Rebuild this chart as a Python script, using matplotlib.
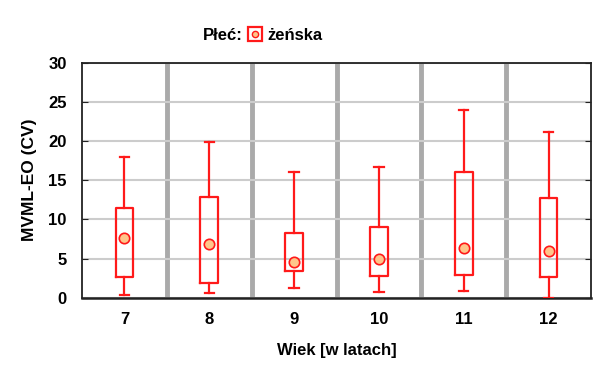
import matplotlib.pyplot as plt
from matplotlib.lines import Line2D

plt.rcParams['font.family'] = ['Liberation Sans', 'DejaVu Sans']
plt.rcParams['font.weight'] = 'bold'

# dane
ages = ["7", "8", "9", "10", "11", "12"]
whis_lo = [0.3, 0.6, 1.3, 0.7, 0.9, 0.0]
q1 = [2.7, 1.9, 3.4, 2.8, 2.9, 2.7]
q3 = [11.4, 12.9, 8.3, 9.0, 16.0, 12.7]
whis_hi = [18.0, 19.9, 16.1, 16.7, 24.0, 21.1]
means = [7.6, 6.8, 4.6, 5.0, 6.4, 6.0]

RED = "#ff1a1a"
FILL = "#ffc58a"

stats = []
for i in range(len(ages)):
    stats.append({
        "whislo": whis_lo[i], "q1": q1[i], "med": means[i],
        "q3": q3[i], "whishi": whis_hi[i], "mean": means[i],
    })

fig = plt.figure(figsize=(5.96, 3.67), dpi=100)
ax = fig.add_axes([0.1376, 0.1888, 0.8540, 0.6404])

positions = list(range(1, len(ages) + 1))

ax.set_xlim(0.5, len(ages) + 0.5)
ax.set_ylim(0, 30)
ax.set_yticks(range(0, 31, 5))
ax.grid(axis="y", color="#cccccc", linewidth=1.5, zorder=0)
for p in positions[:-1]:
    ax.axvline(p + 0.5, color="#aaaaaa", linewidth=3.5, zorder=1)

ax.bxp(stats, positions=positions, widths=0.21, capwidths=0.11,
       showmeans=True, showfliers=False, patch_artist=False,
       boxprops=dict(color=RED, linewidth=1.6),
       whiskerprops=dict(color=RED, linewidth=1.6),
       capprops=dict(color=RED, linewidth=1.6),
       medianprops=dict(linewidth=0),
       meanprops=dict(marker="o", markersize=7.5, markerfacecolor=FILL,
                      markeredgecolor=RED, markeredgewidth=1.2),
       zorder=3)

ax.set_xticks(positions)
ax.set_xticklabels(ages)
ax.tick_params(axis="x", length=0, pad=10, labelsize=12)
ax.tick_params(axis="y", direction="in", length=4, right=True,
               labelsize=12, pad=11, color="#222222")

for s in ax.spines.values():
    s.set_color("#222222")
    s.set_linewidth(1.3)
ax.spines["bottom"].set_linewidth(1.8)

ax.set_xlabel("Wiek [w latach]", fontsize=12, fontweight="bold", labelpad=12)
ax.set_ylabel("MVML-EO (CV)", fontsize=12.5, fontweight="bold", labelpad=8)

# legenda
fig.text(0.408, 0.903, "Płeć:", fontsize=12, fontweight="bold",
         ha="right", va="center")
h_box = Line2D([], [], marker="s", markersize=9.5, markerfacecolor="white",
               markeredgecolor=RED, markeredgewidth=1.6, linestyle="none")
h_dot = Line2D([], [], marker="o", markersize=4.5, markerfacecolor=FILL,
               markeredgecolor=RED, markeredgewidth=1.0, linestyle="none")
fig.legend([(h_box, h_dot)], ["żeńska"], loc="center left",
           bbox_to_anchor=(0.417, 0.903), frameon=False, handlelength=0.8,
           handletextpad=0.35, borderpad=0, borderaxespad=0,
           prop=dict(size=12, weight="bold"))

fig.savefig("out.png", dpi=100)
